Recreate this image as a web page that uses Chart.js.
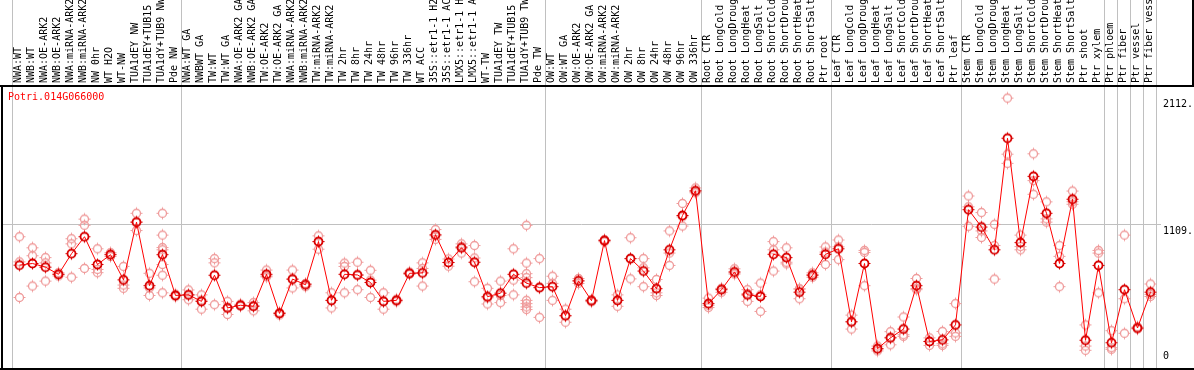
<!DOCTYPE html>
<html><head><meta charset="utf-8">
<script src="https://cdn.jsdelivr.net/npm/chart.js@4/dist/chart.umd.min.js"></script>
<style>html,body{margin:0;padding:0;background:#fff;overflow:hidden}canvas{display:block}</style>
</head><body>
<canvas id="c" width="1194" height="370"></canvas>
<script>
const title = "Potri.014G066000";
const categories = [
  "NWA:WT","NWB:WT","NWA:OE-ARK2","NWB:OE-ARK2","NWA:miRNA-ARK2","NWB:miRNA-ARK2","NW 0hr","WT H2O","WT-NW","TUA1dEY NW","TUA1dEY+TUB15 NW","TUA1dY+TUB9 NW","Pde NW",
  "NWA:WT GA","NWBWT GA","TW:WT","TW:WT GA","NWA:OE-ARK2 GA","NWB:OE-ARK2 GA","TW:OE-ARK2","TW:OE-ARK2 GA","NWA:miRNA-ARK2 GA","NWB:miRNA-ARK2 GA","TW:miRNA-ARK2","TW:miRNA-ARK2 GA","TW 2hr","TW 8hr","TW 24hr","TW 48hr","TW 96hr","TW 336hr","WT ACC","35S::etr1-1 H2O","35S::etr1-1 ACC","LMX5::etr1-1 H2O","LMX5::etr1-1 ACC","WT-TW","TUA1dEY TW","TUA1dEY+TUB15 TW","TUA1dY+TUB9 TW","Pde TW",
  "OW:WT","OW:WT GA","OW:OE-ARK2","OW:OE-ARK2 GA","OW:miRNA-ARK2","OW:miRNA-ARK2 GA","OW 2hr","OW 8hr","OW 24hr","OW 48hr","OW 96hr","OW 336hr",
  "Root CTR","Root LongCold","Root LongDrought","Root LongHeat","Root LongSalt","Root ShortCold","Root ShortDrought","Root ShortHeat","Root ShortSalt","Ptr root",
  "Leaf CTR","Leaf LongCold","Leaf LongDrought","Leaf LongHeat","Leaf LongSalt","Leaf ShortCold","Leaf ShortDrought","Leaf ShortHeat","Leaf ShortSalt","Ptr leaf",
  "Stem CTR","Stem LongCold","Stem LongDrought","Stem LongHeat","Stem LongSalt","Stem ShortCold","Stem ShortDrought","Stem ShortHeat","Stem ShortSalt","Ptr shoot","Ptr xylem",
  "Ptr phloem","Ptr fiber","Ptr vessel","Ptr fiber vessel"
];
const means = [
  786,799,770,713,877,1012,791,869,669,1128,623,869,545,
  550,498,706,446,467,459,713,402,675,630,973,506,713,708,648,498,506,721,724,1027,807,924,809,535,563,713,643,607,
  615,384,661,503,981,506,838,739,599,908,1181,1377,
  480,591,732,550,537,872,846,571,706,872,
  916,335,799,122,208,278,623,179,192,311,
  1227,1089,908,1795,965,1492,1198,799,1310,189,784,
  169,591,286,571
];
const replicates = [
  [1012,812,529],[924,861,620],[846,804,659],[725,713,700],[996,955,690],[1152,1103,760],[916,752,726],[885,872,855],[776,628,602],[1198,1128,1061],[721,605,545],[1198,1025,926,908,791,706,566],[555,545,535],
  [589,550,511],[550,508,436],[838,804,472],[498,446,394],[475,467,459],[488,466,423],[747,700,693],[410,405,390],[747,675,605],[640,635,615],[1019,973,913],[566,506,446],[802,776,566],[809,708,591],[745,667,529],[566,498,436],[515,506,495],[730,721,712],[804,760,620],[1069,1020,991],[835,807,778],[955,934,882],[942,843,654],[602,526,477],[659,545,488],[916,667,550],[1103,802,718,687,506,480,454,433],[838,612,371],
  [698,641,506],[436,384,332],[680,661,640],[512,503,495],[990,981,972],[550,506,459],[1004,838,677],[838,765,615],[672,566,545],[1058,882,784],[1276,1170,1097],[1400,1370,1361],
  [524,467,449],[602,600,570],[757,724,715],[591,560,498],[643,550,418],[973,908,739],[924,809,796],[597,597,519],[725,712,690],[931,890,791],
  [986,932,830],[389,338,278],[903,887,623],[143,120,104],[257,213,153],[374,233,220],[680,600,591],[208,180,148],[259,161,148],[480,247,220],
  [1336,1250,1095],[1204,1058,1006],[1110,942,675],[2114,1668,1595],[1025,934,908],[1671,1458,1349],[1289,1154,1128],[942,856,615],[1375,1290,1270],[311,143,109],[903,882,566],
  [265,130,117],[1025,519,244],[295,285,278],[636,553,537]
];
const groupEnds = [-1, 12, 40, 52, 62, 72, 83, 84, 85, 86, 87];
const yTickValues = [2112, 1109, 0];
const yTickLabels = ["2112.", "1109.", "0"];
const gridValues = [1109];

const FONT = '10px "DejaVu Sans Mono", "Liberation Mono", monospace';

function marker(color, lw) {
  const c = document.createElement('canvas');
  c.width = 15; c.height = 15;
  const g = c.getContext('2d');
  g.strokeStyle = color; g.fillStyle = color; g.lineWidth = lw;
  g.beginPath(); g.arc(7.5, 7.5, 4, 0, Math.PI * 2); g.stroke();
  g.fillRect(7, 1.5, 1, 2);
  g.fillRect(7, 11.5, 1, 2);
  g.fillRect(1.5, 7, 2, 1);
  g.fillRect(11.5, 7, 2, 1);
  return c;
}

const repPoints = [];
replicates.forEach((arr, i) => arr.forEach(v => repPoints.push({x: categories[i], y: v})));

const frame = {
  id: 'frame',
  beforeDatasetsDraw(chart) {
    const ctx = chart.ctx, xs = chart.scales.x, ys = chart.scales.y;
    const step = xs.getPixelForValue(1) - xs.getPixelForValue(0);
    ctx.save();
    ctx.strokeStyle = '#c0c0c0';
    ctx.lineWidth = 1;
    groupEnds.forEach(i => {
      const x = Math.round(xs.getPixelForValue(0) + step * (i + 0.385)) + 0.5;
      ctx.beginPath(); ctx.moveTo(x, 0); ctx.lineTo(x, chart.height); ctx.stroke();
    });
    gridValues.forEach(v => {
      const y = Math.round(ys.getPixelForValue(v)) + 0.5;
      ctx.beginPath(); ctx.moveTo(2, y); ctx.lineTo(1161, y); ctx.stroke();
    });
    ctx.restore();
  },
  afterDraw(chart) {
    const ctx = chart.ctx, xs = chart.scales.x, ys = chart.scales.y;
    const ca = chart.chartArea;
    ctx.save();
    // frame lines
    ctx.fillStyle = '#000';
    ctx.fillRect(0, 85, chart.width, 2);
    ctx.fillRect(1, 86, 2, chart.height - 86);
    ctx.fillRect(0, chart.height - 2, chart.width, 2);
    ctx.fillRect(1192, 0, 2, 86);
    // x labels
    ctx.font = FONT;
    ctx.fillStyle = '#000';
    ctx.textAlign = 'left';
    ctx.textBaseline = 'middle';
    categories.forEach((lab, i) => {
      const x = xs.getPixelForValue(i) - 1;
      ctx.save();
      ctx.translate(x, 83);
      ctx.rotate(-Math.PI / 2);
      ctx.fillText(lab, 0, 0);
      ctx.restore();
    });
    // y tick labels
    yTickValues.forEach((v, k) => {
      let y = ys.getPixelForValue(v) + 6.5;
      y = Math.min(y, ca.bottom - 8);
      ctx.fillText(yTickLabels[k], 1163, y);
    });
    // title
    ctx.fillStyle = '#ff0000';
    ctx.fillText(title, 8, 97);
    ctx.restore();
  }
};

new Chart(document.getElementById('c'), {
  type: 'line',
  data: {
    labels: categories,
    datasets: [
      {
        label: 'mean',
        data: means,
        borderColor: '#ff0000',
        borderWidth: 1,
        pointStyle: marker('#d80000', 1.8),
        pointRadius: 5,
        tension: 0,
        order: 0
      },
      {
        label: 'replicates',
        data: repPoints,
        showLine: false,
        pointStyle: marker('#ef9a9a', 1.3),
        pointRadius: 5,
        order: 1
      }
    ]
  },
  options: {
    responsive: false,
    devicePixelRatio: 1,
    animation: false,
    events: [],
    layout: { padding: { left: 13, right: 37, top: 86, bottom: 0 } },
    scales: {
      x: { type: 'category', offset: true, display: false },
      y: { type: 'linear', min: 0, max: 2210, display: false }
    },
    plugins: { legend: { display: false }, tooltip: { enabled: false } },
    elements: { point: { hoverRadius: 5 } },
    clip: false
  },
  plugins: [frame]
});
</script>
</body></html>
